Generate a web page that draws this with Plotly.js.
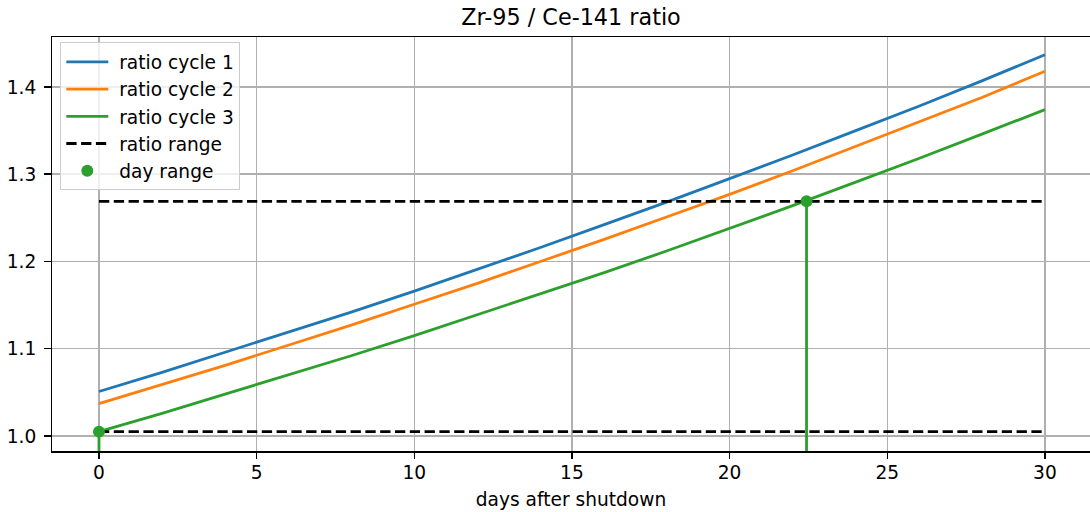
<!DOCTYPE html>
<html>
<head>
<meta charset="utf-8">
<script src="https://cdn.plot.ly/plotly-3.0.1.min.js"></script>
<style>html,body{margin:0;padding:0;background:#fff;}#chart{width:1090px;height:512px;}</style>
</head>
<body>
<div id="chart"></div>
<script>
// Days after shutdown (read at 2-day steps)
const days = [0, 2, 4, 6, 8, 10, 12, 14, 16, 18, 20, 22, 24, 26, 28, 30];
const ratioCycle1 = [1.051, 1.073, 1.096, 1.119, 1.142, 1.166, 1.191, 1.216, 1.242, 1.268, 1.295, 1.322, 1.350, 1.378, 1.407, 1.437];
const ratioCycle2 = [1.037, 1.059, 1.081, 1.104, 1.127, 1.151, 1.175, 1.200, 1.225, 1.251, 1.277, 1.304, 1.332, 1.360, 1.388, 1.418];
const ratioCycle3 = [1.005, 1.026, 1.048, 1.070, 1.092, 1.115, 1.139, 1.163, 1.187, 1.212, 1.238, 1.264, 1.291, 1.318, 1.346, 1.374];
const seriesNames = ["ratio cycle 1", "ratio cycle 2", "ratio cycle 3"];
const rangeName = "ratio range";
const dayName = "day range";
const ratioRange = [1.005, 1.269];
const rangeDays = [0, 30];
const dayRange = [0, 22.44];
const yBottom = 0.95;

const colors = ["#1f77b4", "#ff7f0e", "#2ca02c"];
const font = "DejaVu Sans, sans-serif";
const pad = "\u00a0";
const LW = 2.8;

const traces = [ratioCycle1, ratioCycle2, ratioCycle3].map((ys, i) => ({
  x: days, y: ys, type: "scatter", mode: "lines", name: pad + seriesNames[i],
  line: {color: colors[i], width: LW}
}));

traces.push({
  x: [rangeDays[0], rangeDays[1], null, rangeDays[0], rangeDays[1]],
  y: [ratioRange[0], ratioRange[0], null, ratioRange[1], ratioRange[1]],
  type: "scatter", mode: "lines", name: pad + rangeName,
  line: {color: "#000", width: LW, dash: "10.3px,4.5px"}
});

traces.push({
  x: [dayRange[0], dayRange[0], null, dayRange[1], dayRange[1]],
  y: [ratioRange[0], yBottom, null, ratioRange[1], yBottom],
  type: "scatter", mode: "lines", showlegend: false,
  line: {color: colors[2], width: LW}, hoverinfo: "skip"
});

traces.push({
  x: dayRange, y: ratioRange,
  type: "scatter", mode: "markers", name: pad + dayName,
  marker: {color: colors[2], size: 12}
});

const axisCommon = {
  showline: true, linecolor: "#000", linewidth: 1.5,
  ticks: "outside", ticklen: 6.5, tickwidth: 1.5, tickcolor: "#000",
  showgrid: true, gridcolor: "#b0b0b0", gridwidth: 1.5,
  zeroline: false,
  tickfont: {family: font, size: 18.6, color: "#000"}
};

const layout = {
  width: 1090, height: 512,
  margin: {l: 52, r: 0, t: 37, b: 61},
  paper_bgcolor: "#fff", plot_bgcolor: "#fff",
  font: {family: font, size: 18.6, color: "#000"},
  title: {text: "Zr-95 / Ce-141 ratio", font: {family: font, size: 22.3, color: "#000"},
          x: 0.5, xref: "paper", xanchor: "center", y: 0.966, yref: "container", yanchor: "middle"},
  xaxis: Object.assign({}, axisCommon, {
    mirror: true, ticklabelstandoff: -2,
    range: [-1.49, 31.43], tickmode: "linear", tick0: 0, dtick: 5,
    title: {text: "days after shutdown", font: {family: font, size: 18.6, color: "#000"}, standoff: 10}
  }),
  yaxis: Object.assign({}, axisCommon, {
    mirror: false, ticklabelstandoff: 4,
    range: [0.9828, 1.4573], tickmode: "linear", tick0: 1.0, dtick: 0.1, tickformat: ".1f"
  }),
  legend: {
    x: 0.008, y: 0.987, xanchor: "left", yanchor: "top",
    bgcolor: "rgba(255,255,255,0.8)", bordercolor: "#cccccc", borderwidth: 1,
    font: {family: font, size: 18.6, color: "#000"},
    itemwidth: 42
  },
  showlegend: true
};

Plotly.newPlot("chart", traces, layout, {displayModeBar: false, staticPlot: true});
</script>
</body>
</html>
